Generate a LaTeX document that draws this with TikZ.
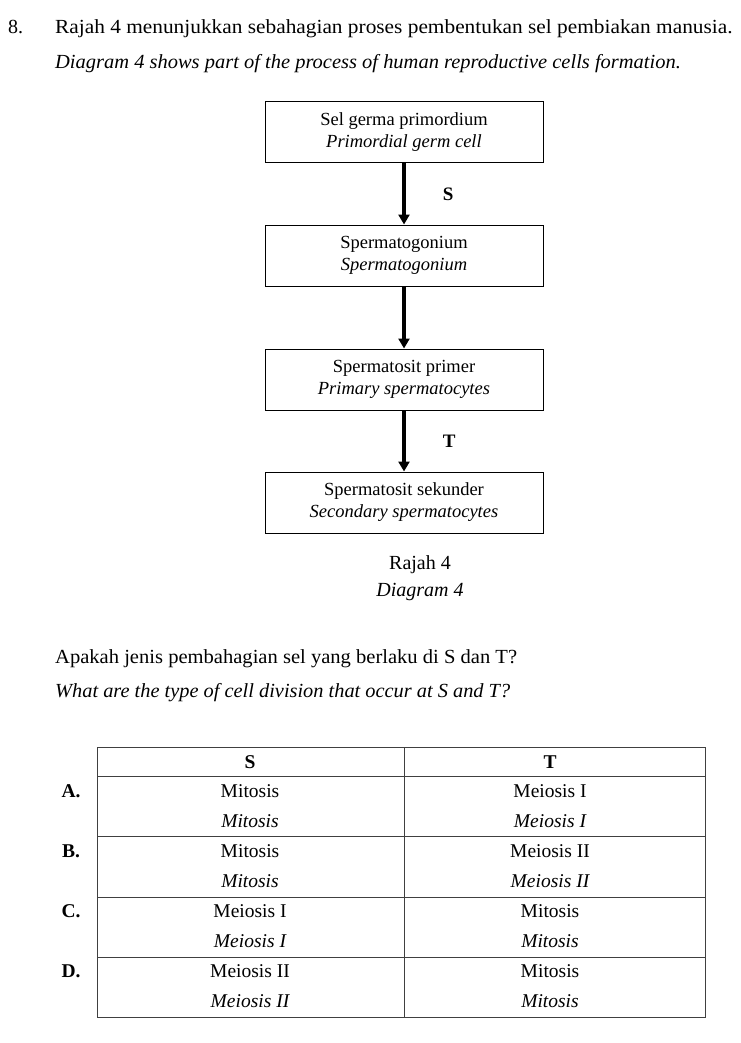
\documentclass[tikz,border=0pt]{standalone}
\usepackage{fontspec}
\setmainfont{Liberation Serif}
\usetikzlibrary{positioning,arrows.meta}

\tikzset{
	stagebox/.style={draw, line width=1pt, minimum width=278pt, minimum height=61pt,
		align=center, inner sep=0pt, font=\fontsize{18.5}{22}\selectfont},
	flow/.style={line width=3.2pt, -{Triangle[length=10pt,width=11pt]}},
	stagelabel/.style={font=\fontsize{19}{22}\selectfont\bfseries},
	maintext/.style={anchor=base west, inner sep=0pt, font=\fontsize{20}{24}\selectfont},
	grid/.style={line width=1pt, draw=black!75},
	celltext/.style={inner sep=0pt, anchor=base, font=\fontsize{19.5}{24}\selectfont}
}

\begin{document}
\begin{tikzpicture}[x=1pt,y=-1pt]
	
	\useasboundingbox (0,0) rectangle (740,1043);
	
	% question
	\node[maintext] (num) at (8,34) {8.};
	\node[maintext] (q1) at (55,34) {\scalebox{1.067}[1]{Rajah 4 menunjukkan sebahagian proses pembentukan sel pembiakan manusia.}};
	\node[maintext] (q2) at (55,69) {\scalebox{1.024}[1]{\itshape Diagram 4 shows part of the process of human reproductive cells formation.}};
	
	% flow of cells
	\node[stagebox] (germ) at (404,132.5) {Sel germa primordium\\\itshape Primordial germ cell};
	\node[stagebox, below=61pt of germ] (gonium) {Spermatogonium\\\itshape Spermatogonium};
	\node[stagebox, below=62pt of gonium] (primer) {Spermatosit primer\\\itshape Primary spermatocytes};
	\node[stagebox, below=61pt of primer] (sekunder) {Spermatosit sekunder\\\itshape Secondary spermatocytes};
	
	\draw[flow] (germ) -- node[stagelabel, right=34pt] (S) {S} (gonium);
	\draw[flow] (gonium) -- (primer);
	\draw[flow] (primer) -- node[stagelabel, right=34pt] (T) {T} (sekunder);
	
	\node[maintext, anchor=base] (cap1) at (420,569) {Rajah 4};
	\node[maintext, anchor=base] (cap2) at (420,596) {\itshape Diagram 4};
	
	\node[maintext] (q3) at (55,663) {\scalebox{1.028}[1]{Apakah jenis pembahagian sel yang berlaku di S dan T?}};
	\node[maintext] (q4) at (55,697) {\scalebox{1.018}[1]{\itshape What are the type of cell division that occur at S and T?}};
	
	% answer table
	\draw[grid] (97,747) rectangle (705,1017);
	\draw[grid] (404,747) -- (404,1017);
	\foreach \y in {776,836,897,957}
		\draw[grid] (97,\y) -- (705,\y);
	
	\node[celltext, font=\fontsize{19.5}{24}\selectfont\bfseries] (hS) at (250,768) {S};
	\node[celltext, font=\fontsize{19.5}{24}\selectfont\bfseries] (hT) at (550,768) {T};
	
	\foreach \r/\yy/\s/\t in {A/797/Mitosis/Meiosis I, B/857/Mitosis/Meiosis II,
		C/917/Meiosis I/Mitosis, D/977/Meiosis II/Mitosis} {
		\node[celltext, font=\fontsize{19.5}{24}\selectfont\bfseries] (opt\r) at (71,\yy) {\r.};
		\node[celltext] (s\r) at (250,\yy) {\s};
		\node[celltext] (t\r) at (550,\yy) {\t};
		\node[celltext] (si\r) at (250,\yy+30) {\itshape\s};
		\node[celltext] (ti\r) at (550,\yy+30) {\itshape\t};
	}
	
\end{tikzpicture}
\end{document}
